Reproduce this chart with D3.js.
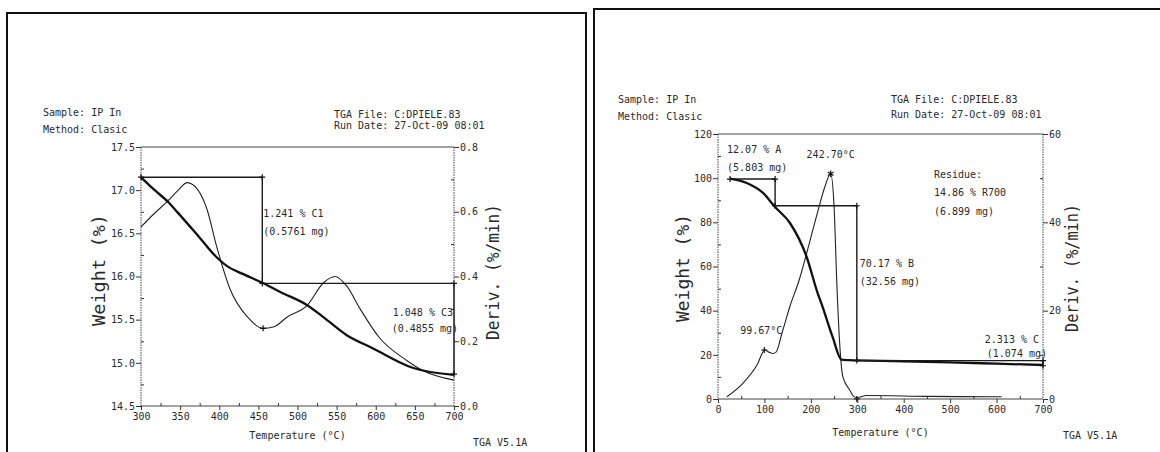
<!DOCTYPE html>
<html>
<head>
<meta charset="utf-8">
<script src="https://cdn.jsdelivr.net/npm/d3@7"></script>
<style>
body { margin: 0; background: #fff; }
svg text { font-family: "DejaVu Sans Mono", monospace; font-size: 10px; fill: #2a2a2a; }
.frame { fill: none; stroke: #111; stroke-width: 2; }
.axis text { font-size: 10px; }
.axis line { stroke: #333; }
.axis path { display: none; }
.edge { stroke: #444; stroke-width: 1; }
.side { stroke-dasharray: 1.5 1; }
.wt { fill: none; stroke: #111; stroke-width: 2.3; }
.dv { fill: none; stroke: #222; stroke-width: 1.1; }
.ann { fill: none; stroke: #1a1a1a; stroke-width: 1.4; }
.mk { fill: none; stroke: #111; stroke-width: 1.2; }
.big { font-size: 17px; }
</style>
</head>
<body>
<div id="chart"></div>
<script>
// ---- left run: 300-700 °C segment ----
var leftWeightTemp = [300, 315, 335, 347, 375, 397, 410, 430, 457, 478, 512, 533, 563, 596, 648, 700];
var leftWeight     = [17.15, 17.02, 16.86, 16.74, 16.45, 16.22, 16.12, 16.03, 15.92, 15.82, 15.67, 15.53, 15.32, 15.17, 14.94, 14.86];
var leftDerivTemp  = [300, 315, 335, 347, 359, 372, 384, 397, 414, 436, 456, 470, 487, 512, 533, 548, 563, 580, 605, 640, 660, 700];
var leftDeriv      = [0.553, 0.59, 0.635, 0.665, 0.69, 0.67, 0.61, 0.49, 0.36, 0.275, 0.24, 0.245, 0.275, 0.31, 0.38, 0.40, 0.37, 0.30, 0.21, 0.14, 0.11, 0.08];
var leftStepTemp   = [300, 455, 700];
var leftStepWeight = [17.15, 15.92, 14.87];
var leftWeightTicks = [14.5, 15.0, 15.5, 16.0, 16.5, 17.0, 17.5];
var leftDerivTicks  = [0.0, 0.2, 0.4, 0.6, 0.8];
var leftTempTicks   = [300, 350, 400, 450, 500, 550, 600, 650, 700];

// ---- right run: full 0-700 °C ----
var rightWeightTemp = [26, 62, 97, 123, 155, 191, 213, 224, 247, 266, 280, 300, 400, 500, 600, 700];
var rightWeight     = [99.8, 97.8, 93.3, 86.9, 79.7, 64.3, 49.0, 42.5, 28.0, 17.8, 17.6, 17.5, 17.1, 16.6, 16.0, 15.4];
var rightDerivTemp  = [19, 54, 84, 101, 110, 118, 125, 138, 155, 175, 191, 215, 230, 242.7, 250, 256, 262, 269, 284, 292, 300, 320, 450, 611];
var rightDeriv      = [0.5, 3.6, 7.7, 11.1, 10.6, 10.3, 10.6, 15, 21, 27, 33, 42.5, 48, 51, 43.6, 26, 12.7, 5, 2, 0.6, 0.3, 0.8, 0.6, 0.5];
var rightStepTemp   = [26, 123, 299, 700];
var rightStepWeight = [99.6, 87.5, 17.4, 15.05];
var rightWeightTicks = [0, 20, 40, 60, 80, 100, 120];
var rightDerivTicks  = [0, 20, 40, 60];
var rightTempTicks   = [0, 100, 200, 300, 400, 500, 600, 700];

var svg = d3.select("#chart").append("svg")
    .attr("width", 1160)
    .attr("height", 452);

// panel borders
svg.append("rect").attr("class", "frame").attr("x", 7).attr("y", 13).attr("width", 579).attr("height", 470);
svg.append("rect").attr("class", "frame").attr("x", 594).attr("y", 9).attr("width", 600).attr("height", 470);

function plus(g, x, y, s) {
    g.append("path").attr("class", "mk")
        .attr("d", "M" + (x - s) + "," + y + "H" + (x + s) + "M" + x + "," + (y - s) + "V" + (y + s));
}

function drawPanel(p) {
    var g = svg.append("g");
    var x = d3.scaleLinear().domain(p.tempDomain).range([p.left, p.right]);
    var yw = d3.scaleLinear().domain(p.weightDomain).range([p.bottom, p.top]);
    var yd = d3.scaleLinear().domain(p.derivDomain).range([p.bottom, p.top]);

    // header text
    g.append("text").attr("x", p.head[0]).attr("y", p.head[1]).text("Sample: IP In");
    g.append("text").attr("x", p.head[0]).attr("y", p.head[1] + 17).text("Method: Clasic");
    g.append("text").attr("x", p.head[2]).attr("y", p.head[3]).text("TGA File: C:DPIELE.83");
    g.append("text").attr("x", p.head[2]).attr("y", p.head[3] + p.head[4]).text("Run Date: 27-Oct-09 08:01");

    // plot edges
    g.append("line").attr("class", "edge").attr("x1", p.left).attr("x2", p.right).attr("y1", p.top).attr("y2", p.top);
    g.append("line").attr("class", "edge").attr("x1", p.left).attr("x2", p.right).attr("y1", p.bottom).attr("y2", p.bottom);
    g.append("line").attr("class", "edge side").attr("x1", p.left).attr("x2", p.left).attr("y1", p.top).attr("y2", p.bottom);
    g.append("line").attr("class", "edge side").attr("x1", p.right).attr("x2", p.right).attr("y1", p.top).attr("y2", p.bottom);

    // axes: major ticks with labels, minor ticks inside
    g.append("g").attr("class", "axis").attr("transform", "translate(" + p.left + ",0)")
        .call(d3.axisLeft(yw).tickValues(p.weightTicks).tickSize(5).tickPadding(1).tickFormat(p.weightFmt));
    g.append("g").attr("class", "axis").attr("transform", "translate(" + p.left + ",0)")
        .call(d3.axisRight(yw).tickValues(p.weightMinor).tickSize(3).tickFormat(""));
    g.append("g").attr("class", "axis").attr("transform", "translate(" + p.right + ",0)")
        .call(d3.axisRight(yd).tickValues(p.derivTicks).tickSize(5).tickPadding(1).tickFormat(p.derivFmt));
    g.append("g").attr("class", "axis").attr("transform", "translate(" + p.right + ",0)")
        .call(d3.axisLeft(yd).tickValues(p.derivMinor).tickSize(3).tickFormat(""));
    g.append("g").attr("class", "axis").attr("transform", "translate(0," + p.bottom + ")")
        .call(d3.axisBottom(x).tickValues(p.tempTicks).tickSize(4).tickPadding(3).tickFormat(d3.format("d")));
    g.append("g").attr("class", "axis").attr("transform", "translate(0," + p.bottom + ")")
        .call(d3.axisTop(x).tickValues(p.tempMinor).tickSize(3).tickFormat(""));

    // axis titles
    g.append("text").attr("x", (p.left + p.right) / 2).attr("y", p.xTitleY)
        .attr("text-anchor", "middle").text("Temperature (°C)");
    g.append("text").attr("x", p.verX).attr("y", p.verY).text("TGA V5.1A");
    g.append("text").attr("class", "big")
        .attr("transform", "translate(" + p.wTitle[0] + "," + p.wTitle[1] + ") rotate(-90)")
        .attr("text-anchor", "middle").attr("dominant-baseline", "central")
        .attr("textLength", p.wTitle[2]).attr("lengthAdjust", "spacingAndGlyphs")
        .text("Weight (%)");
    g.append("text").attr("class", "big")
        .attr("transform", "translate(" + p.dTitle[0] + "," + p.dTitle[1] + ") rotate(-90)")
        .attr("text-anchor", "middle").attr("dominant-baseline", "central")
        .attr("textLength", p.dTitle[2]).attr("lengthAdjust", "spacingAndGlyphs")
        .text("Deriv. (%/min)");

    // curves
    var wLine = d3.line().x(function (d) { return x(d[0]); }).y(function (d) { return yw(d[1]); }).curve(d3.curveMonotoneX);
    var dLine = d3.line().x(function (d) { return x(d[0]); }).y(function (d) { return yd(d[1]); }).curve(d3.curveMonotoneX);
    g.append("path").attr("class", "dv").attr("d", dLine(d3.zip(p.derivTemp, p.deriv)));
    g.append("path").attr("class", "wt").attr("d", wLine(d3.zip(p.weightTemp, p.weight)));

    // step annotations
    var st = p.stepTemp, sw = p.stepWeight;
    plus(g, x(st[0]), yw(sw[0]), 3);
    for (var i = 0; i < st.length - 1; i++) {
        g.append("line").attr("class", "ann")
            .attr("x1", x(st[i])).attr("x2", x(st[i + 1])).attr("y1", yw(sw[i])).attr("y2", yw(sw[i]));
        g.append("line").attr("class", "ann")
            .attr("x1", x(st[i + 1])).attr("x2", x(st[i + 1])).attr("y1", yw(sw[i])).attr("y2", yw(sw[i + 1]));
        plus(g, x(st[i + 1]), yw(sw[i]), 3);
        plus(g, x(st[i + 1]), yw(sw[i + 1]), 3);
    }
    return { g: g, x: x, yw: yw, yd: yd };
}

// left panel
var L = drawPanel({
    left: 141, right: 454, top: 147, bottom: 406,
    tempDomain: [300, 700], weightDomain: [14.5, 17.5], derivDomain: [0, 0.8],
    weightTicks: leftWeightTicks, weightMinor: d3.range(14.75, 17.5, 0.5), weightFmt: d3.format(".1f"),
    derivTicks: leftDerivTicks, derivMinor: [0.1, 0.3, 0.5, 0.7], derivFmt: d3.format(".1f"),
    tempTicks: leftTempTicks, tempMinor: d3.range(325, 700, 50),
    head: [43, 116, 334, 118, 11],
    xTitleY: 439, verX: 473, verY: 446,
    wTitle: [99, 270, 112], dTitle: [493, 272, 136],
    weightTemp: leftWeightTemp, weight: leftWeight,
    derivTemp: leftDerivTemp, deriv: leftDeriv,
    stepTemp: leftStepTemp, stepWeight: leftStepWeight
});
plus(L.g, L.x(456), L.yd(0.24), 3);
L.g.append("text").attr("x", L.x(455) + 1).attr("y", L.yw(16.74) + 4).text("1.241 % C1");
L.g.append("text").attr("x", L.x(455) + 1).attr("y", L.yw(16.74) + 22).text("(0.5761 mg)");
L.g.append("text").attr("x", L.x(700) - 1).attr("y", 316).attr("text-anchor", "end").text("1.048 % C3");
L.g.append("text").attr("x", L.x(700) + 4).attr("y", 332).attr("text-anchor", "end").text("(0.4855 mg)");

// right panel
var R = drawPanel({
    left: 718, right: 1043, top: 134, bottom: 399,
    tempDomain: [0, 700], weightDomain: [0, 120], derivDomain: [0, 60],
    weightTicks: rightWeightTicks, weightMinor: d3.range(10, 120, 20), weightFmt: d3.format("d"),
    derivTicks: rightDerivTicks, derivMinor: [10, 30, 50], derivFmt: d3.format("d"),
    tempTicks: rightTempTicks, tempMinor: d3.range(50, 700, 100),
    head: [618, 103, 891, 103, 15],
    xTitleY: 436, verX: 1063, verY: 439,
    wTitle: [683, 268, 108], dTitle: [1072, 268, 128],
    weightTemp: rightWeightTemp, weight: rightWeight,
    derivTemp: rightDerivTemp, deriv: rightDeriv,
    stepTemp: rightStepTemp, stepWeight: rightStepWeight
});
// derivative peaks
R.g.append("path").attr("class", "mk")
    .attr("transform", "translate(" + R.x(242.7) + "," + R.yd(51) + ")")
    .attr("d", d3.symbol(d3.symbolAsterisk || d3.symbolCross, 30)());
R.g.append("text").attr("x", R.x(242.7)).attr("y", R.yd(51) - 16).attr("text-anchor", "middle").text("242.70°C");
plus(R.g, R.x(99.67), R.yd(11.1), 3);
R.g.append("text").attr("x", R.x(99.67) - 3).attr("y", R.yd(11.1) - 16).attr("text-anchor", "middle").text("99.67°C");
plus(R.g, R.x(299), R.yd(0), 3);
// step labels
R.g.append("text").attr("x", R.x(26) - 3).attr("y", 153).text("12.07 % A");
R.g.append("text").attr("x", R.x(26) - 3).attr("y", 171).text("(5.803 mg)");
R.g.append("text").attr("x", R.x(299) + 3).attr("y", 267).text("70.17 % B");
R.g.append("text").attr("x", R.x(299) + 3).attr("y", 285).text("(32.56 mg)");
R.g.append("text").attr("x", R.x(700) - 4).attr("y", 343).attr("text-anchor", "end").text("2.313 % C");
R.g.append("text").attr("x", R.x(700) + 4).attr("y", 357).attr("text-anchor", "end").text("(1.074 mg)");
R.g.append("text").attr("x", R.x(465)).attr("y", 178).text("Residue:");
R.g.append("text").attr("x", R.x(465)).attr("y", 196).text("14.86 % R700");
R.g.append("text").attr("x", R.x(465)).attr("y", 215).text("(6.899 mg)");
</script>
</body>
</html>
